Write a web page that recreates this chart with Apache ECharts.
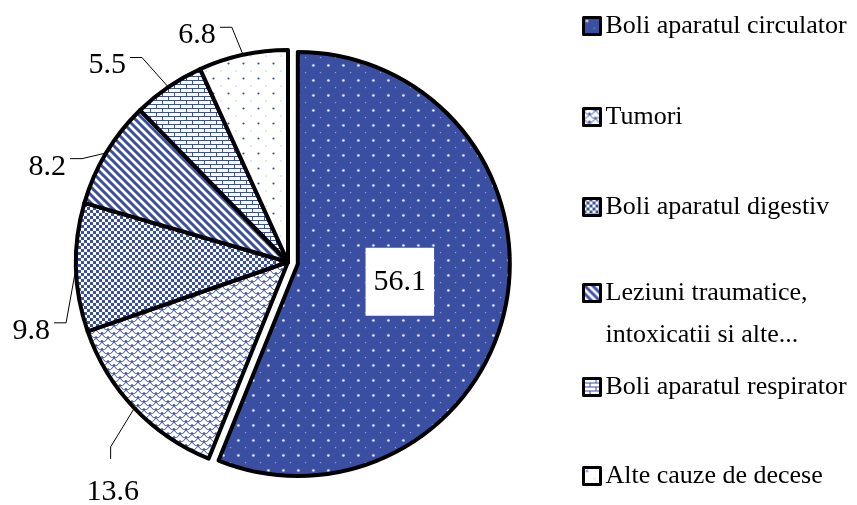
<!DOCTYPE html>
<html><head><meta charset="utf-8">
<script src="https://cdn.jsdelivr.net/npm/echarts@6/dist/echarts.min.js"></script>
<style>html,body{margin:0;padding:0;background:#fff}#chart{width:857px;height:505px}</style>
</head><body><div id="chart"></div>
<script>
const categories = ['Boli aparatul circulator', 'Tumori', 'Boli aparatul digestiv', 'Leziuni traumatice, intoxicatii si alte...', 'Boli aparatul respirator', 'Alte cauze de decese'];
const legendLabels = ['Boli aparatul circulator', 'Tumori', 'Boli aparatul digestiv', 'Leziuni traumatice,\nintoxicatii si alte...', 'Boli aparatul respirator', 'Alte cauze de decese'];
const values = [56.1, 13.6, 9.8, 8.2, 5.5, 6.8];
// label nudges (dx, dy) relative to the library's own outside label placement
const labelNudgeX = [-5, 34, 9, -8, -16, -8];
const labelNudgeY = [-3, 70, 63, 24, -5, 0];
const labelSide = ['inside', 'top', 'right', 'right', 'right', 'right'];
// legend row centres (layout)
const legendY = [26, 117, 207, 293, 387, 476];

const BLUE = '#3b4fa2';
function tile(w, h, draw) {
  const c = document.createElement('canvas'); c.width = w; c.height = h;
  const g = c.getContext('2d'); draw(g); return { image: c, repeat: 'repeat' };
}
const patterns = [
  tile(15, 15, g => { g.fillStyle = BLUE; g.fillRect(0, 0, 15, 15);
    g.fillStyle = '#eef1ff'; g.beginPath(); g.arc(3.5, 3.5, 1.3, 0, 7); g.fill();
    g.fillStyle = '#9fabe0'; g.fillRect(10, 10, 1.2, 1.2); }),
  tile(12, 8, g => { g.fillStyle = '#fff'; g.fillRect(0, 0, 12, 8);
    g.strokeStyle = BLUE; g.lineWidth = 1;
    [[6, 0], [6, 8], [0, 4], [12, 4], [0, -4], [12, -4]].forEach(p => { g.beginPath(); g.arc(p[0], p[1], 6, 0, Math.PI); g.stroke(); }); }),
  tile(6, 6, g => { g.fillStyle = '#fff'; g.fillRect(0, 0, 6, 6);
    g.fillStyle = BLUE; g.fillRect(0, 0, 3, 3); g.fillRect(3, 3, 3, 3); }),
  tile(8, 8, g => { g.fillStyle = '#fff'; g.fillRect(0, 0, 8, 8);
    g.strokeStyle = BLUE; g.lineWidth = 3;
    for (let k = -1; k <= 1; k++) { g.beginPath(); g.moveTo(k * 8 - 2, -2); g.lineTo(k * 8 + 10, 10); g.stroke(); } }),
  tile(12, 8, g => { g.fillStyle = '#fff'; g.fillRect(0, 0, 12, 8);
    g.strokeStyle = BLUE; g.lineWidth = 1; g.beginPath();
    g.moveTo(0, 0.5); g.lineTo(12, 0.5); g.moveTo(0, 4.5); g.lineTo(12, 4.5);
    g.moveTo(0.5, 0.5); g.lineTo(0.5, 4.5); g.moveTo(6.5, 4.5); g.lineTo(6.5, 8.5); g.stroke(); }),
  tile(15, 15, g => { g.fillStyle = '#fff'; g.fillRect(0, 0, 15, 15);
    g.fillStyle = BLUE; g.beginPath(); g.arc(3.5, 3.5, 1.1, 0, 7); g.fill();
    g.fillStyle = '#8c99d6'; g.fillRect(10.5, 10.5, 1, 1); })
];

const FONT = 'Liberation Serif';
const legends = categories.map((name, i) => {
  const twoLine = legendLabels[i].indexOf('\n') >= 0;
  const lh = twoLine ? 42 : 30;
  // a leading empty line keeps the first text line level with the icon
  const text = twoLine ? '\n' + legendLabels[i] : legendLabels[i];
  const blockH = twoLine ? 3 * lh : lh;
  return {
    data: [name], orient: 'vertical', left: 582, top: legendY[i] - blockH / 2,
    selectedMode: false, icon: 'rect', itemWidth: 17, itemHeight: 17, itemGap: 0, padding: 0,
    itemStyle: { borderColor: '#000', borderWidth: 3 },
    formatter: () => text,
    textStyle: { fontFamily: FONT, fontSize: 26, lineHeight: lh, color: '#000' }
  };
});

function layoutLabel(p) {
  const i = p.dataIndex;
  const dx = labelNudgeX[i], dy = labelNudgeY[i];
  if (labelSide[i] === 'inside' || !p.labelLinePoints) return { dx, dy };
  const r = p.labelRect;
  const x = r.x + dx, y = r.y + dy;
  const start = p.labelLinePoints[0];
  let end, mid;
  if (labelSide[i] === 'top') {
    end = [x + r.width / 2 - 2, y - 18];
    mid = [end[0], end[1] - 12];
  } else {
    end = [x + r.width + 4, y + r.height / 2 - 8];
    mid = [end[0] + 12, end[1]];
  }
  return { dx, dy, labelLinePoints: [start, mid, end] };
}

const chart = echarts.init(document.getElementById('chart'));
chart.setOption({
  animation: false,
  backgroundColor: '#fff',
  legend: legends,
  series: [{
    type: 'pie', center: [288, 262], radius: 212, startAngle: 90, clockwise: true,
    selectedMode: 'single', selectedOffset: 10, avoidLabelOverlap: false,
    emphasis: { disabled: true },
    itemStyle: { borderColor: '#000', borderWidth: 4 },
    label: { show: true, position: 'outside', formatter: '{c}', color: '#000', fontFamily: FONT, fontSize: 30 },
    labelLine: { show: true, length: 20, length2: 10, lineStyle: { color: '#000', width: 1 } },
    labelLayout: layoutLabel,
    data: values.map((v, i) => ({
      name: categories[i], value: v, selected: i === 0,
      itemStyle: { color: patterns[i] },
      label: i === 0 ? { position: 'inside', backgroundColor: '#fff', padding: [18, 8, 16, 8], lineHeight: 34 } : undefined,
      labelLine: i === 0 ? { show: false } : undefined
    }))
  }]
});
</script></body></html>
